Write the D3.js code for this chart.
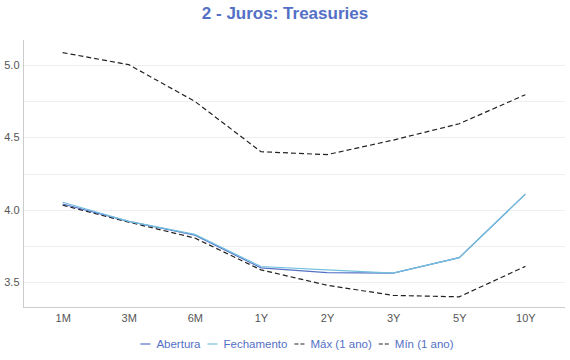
<!DOCTYPE html>
<html><head><meta charset="utf-8">
<script src="https://cdn.jsdelivr.net/npm/d3@7"></script>
<style>body{margin:0;background:#fff;}svg{display:block;font-family:"Liberation Sans",Arial,sans-serif;}</style>
</head><body><svg id="c" width="570" height="360"></svg>
<script>
const categories = ["1M","3M","6M","1Y","2Y","3Y","5Y","10Y"];
const abertura   = [4.04, 3.92, 3.825, 3.60, 3.567, 3.563, 3.67, 4.108];
const fechamento = [4.052, 3.92, 3.83, 3.609, 3.586, 3.563, 3.67, 4.108];
const maxAno     = [5.083, 5.00, 4.747, 4.40, 4.38, 4.48, 4.593, 4.793];
const minAno     = [4.032, 3.915, 3.805, 3.586, 3.48, 3.41, 3.40, 3.61];
const yTicks     = [3.5, 4.0, 4.5, 5.0];
const gridTicks  = [3.5, 3.75, 4.0, 4.25, 4.5, 4.75, 5.0];

const series = [
  {name:"Abertura", values:abertura, color:"#5470c6", dash:null},
  {name:"Fechamento", values:fechamento, color:"#73c0de", dash:null},
  {name:"Máx (1 ano)", values:maxAno, color:"#222", dash:"5,3"},
  {name:"Mín (1 ano)", values:minAno, color:"#222", dash:"5,3"}
];

const svg = d3.select("#c");
const L=23, R=565, T=40, B=307;
const x = d3.scalePoint().domain(categories).range([L,R]).padding(0.6);
const y = d3.scaleLinear().domain([3.33,5.17]).range([B,T]);

svg.append("text").attr("x",285).attr("y",19).attr("text-anchor","middle")
  .attr("font-size",17).attr("font-weight","bold").attr("fill","#5470c6").text("2 - Juros: Treasuries");

svg.append("g").selectAll("line").data(gridTicks).join("line")
  .attr("x1",L).attr("x2",R).attr("y1",d=>Math.round(y(d))+0.5).attr("y2",d=>Math.round(y(d))+0.5)
  .attr("stroke","#eeeeee").attr("stroke-width",1);

const yAxis = svg.append("g").attr("transform",`translate(${L+0.5},0)`)
  .call(d3.axisLeft(y).tickValues(yTicks).tickFormat(d3.format(".1f")).tickSize(0).tickPadding(4));
yAxis.select(".domain").attr("stroke","#cccccc").attr("d",`M0,${T}V${B}`);
yAxis.selectAll("text").attr("font-size",11).attr("fill","#555").attr("font-family","Liberation Sans, Arial, sans-serif");

const xAxis = svg.append("g").attr("transform",`translate(0,${B+0.5})`)
  .call(d3.axisBottom(x).tickSize(0).tickPadding(7));
xAxis.select(".domain").attr("stroke","#cccccc").attr("d",`M${L},0H${R}`);
xAxis.selectAll("text").attr("font-size",11).attr("fill","#555").attr("font-family","Liberation Sans, Arial, sans-serif");

const line = d3.line().x((d,i)=>x(categories[i])).y(d=>y(d));
const order = [2,3,0,1];
order.forEach(k=>{
  const s=series[k];
  svg.append("path").datum(s.values).attr("d",line).attr("fill","none")
    .attr("stroke",s.color).attr("stroke-width",1.2)
    .attr("stroke-dasharray",s.dash);
});

// legend
const lg = svg.append("g");
let cx = 0;
series.forEach(s=>{
  const g = lg.append("g").attr("transform",`translate(${cx},0)`);
  g.append("line").attr("x1",0).attr("x2",10).attr("y1",0).attr("y2",0)
    .attr("stroke",s.color).attr("stroke-width",1.2).attr("stroke-dasharray",s.dash?"4,2":null);
  const t = g.append("text").attr("x",16).attr("y",4).attr("font-size",11.5).attr("fill","#5470c6").text(s.name);
  const w = t.node().getComputedTextLength();
  cx += 16 + w + 7;
});
const totalW = cx - 7;
lg.attr("transform",`translate(${297 - totalW/2},344)`);
</script></body></html>
